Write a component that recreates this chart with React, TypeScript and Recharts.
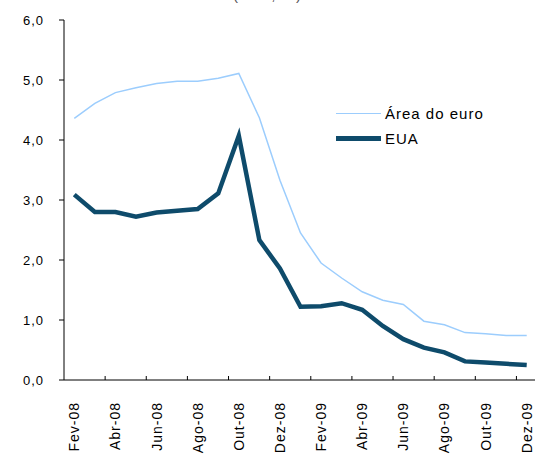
import React from "react";
import { LineChart, Line, XAxis, YAxis, Legend } from "recharts";

const months = [
  "Fev-08", "Mar-08", "Abr-08", "Mai-08", "Jun-08", "Jul-08", "Ago-08", "Set-08",
  "Out-08", "Nov-08", "Dez-08", "Jan-09", "Fev-09", "Mar-09", "Abr-09", "Mai-09",
  "Jun-09", "Jul-09", "Ago-09", "Set-09", "Out-09", "Nov-09", "Dez-09",
];

const euroArea = [
  4.36, 4.61, 4.79, 4.87, 4.94, 4.98, 4.98, 5.03, 5.11, 4.37, 3.33, 2.45,
  1.95, 1.7, 1.47, 1.33, 1.26, 0.98, 0.92, 0.79, 0.77, 0.74, 0.74,
];

const usa = [
  3.09, 2.8, 2.8, 2.72, 2.79, 2.82, 2.85, 3.11, 4.07, 2.33, 1.86, 1.22,
  1.23, 1.28, 1.17, 0.9, 0.68, 0.54, 0.46, 0.31, 0.29, 0.27, 0.25,
];

const yTicks = [0, 1, 2, 3, 4, 5, 6];

const FONT = '"Liberation Sans", Arial, sans-serif';
const LIGHT = "#9ccdfd";
const DARK = "#0e4b6b";

const data = months.map((m, i) => ({
  x: i + 0.5,
  month: m,
  euro: euroArea[i],
  eua: usa[i],
}));

// labels sit in the middle of every 2nd month, tick marks on the boundaries
const labelTicks = months.map((_, i) => i).filter((i) => i % 2 === 0).map((i) => i + 0.5);
const boundaryTicks = labelTicks.slice(1).map((v) => v - 0.5);
const xTicks = [...labelTicks, ...boundaryTicks].sort((a, b) => a - b);

function XTick({ x, y, payload }: { x?: number; y?: number; payload?: { value: number } }) {
  if (x == null || y == null || !payload) return null;
  const v = payload.value;
  if (v % 1 === 0) {
    return <line x1={x} x2={x} y1={y} y2={y - 4} stroke="#000" strokeWidth={1} />;
  }
  return (
    <text
      transform={`translate(${x + 5},${y + 22}) rotate(-90)`}
      textAnchor="end"
      fontSize={14}
      fontFamily={FONT}
      letterSpacing={1}
      fill="#000"
    >
      {months[Math.floor(v)]}
    </text>
  );
}

function LegendBox() {
  const rows = [
    { name: "Área do euro", color: LIGHT, width: 1.5 },
    { name: "EUA", color: DARK, width: 4.5 },
  ];
  return (
    <div style={{ fontFamily: FONT, fontSize: 15, letterSpacing: 1, color: "#000" }}>
      {rows.map((r) => (
        <div key={r.name} style={{ display: "flex", alignItems: "center", height: 25 }}>
          <span style={{ display: "inline-block", width: 45, height: r.width, background: r.color }} />
          <span style={{ marginLeft: 4, lineHeight: "25px" }}>{r.name}</span>
        </div>
      ))}
    </div>
  );
}

export default function App() {
  return (
    <div style={{ position: "absolute", left: 0, top: 0, width: 535, height: 457, overflow: "hidden", background: "#fff" }}>
      <div
        style={{
          position: "absolute",
          top: -13,
          left: 0,
          width: 535,
          textAlign: "center",
          fontFamily: FONT,
          fontSize: 15,
          lineHeight: "15px",
          color: "#555",
          letterSpacing: 1,
        }}
      >
        (taxa, %)
      </div>
      <LineChart width={535} height={457} data={data} margin={{ top: 20, right: -2, left: 0, bottom: 0 }}>
        <XAxis
          dataKey="x"
          type="number"
          domain={[0, 23]}
          ticks={xTicks}
          interval={0}
          height={77}
          tickSize={0}
          tickMargin={0}
          tickLine={false}
          axisLine={{ stroke: "#000", strokeWidth: 1 }}
          tick={<XTick />}
        />
        <YAxis
          type="number"
          domain={[0, 6]}
          ticks={yTicks}
          interval={0}
          width={64}
          tickSize={5}
          tickMargin={15}
          axisLine={{ stroke: "#000", strokeWidth: 1 }}
          tickLine={{ stroke: "#000", strokeWidth: 1 }}
          tick={{ fontSize: 13, fill: "#000", fontFamily: FONT, letterSpacing: 1 }}
          tickFormatter={(v) => Number(v).toFixed(1).replace(".", ",")}
        />
        <Legend
          layout="vertical"
          align="center"
          verticalAlign="middle"
          content={<LegendBox />}
          wrapperStyle={{ position: "absolute", left: 336, top: 101, width: 180 }}
        />
        <Line
          type="linear"
          dataKey="euro"
          name="Área do euro"
          stroke={LIGHT}
          strokeWidth={1.5}
          dot={false}
          isAnimationActive={false}
        />
        <Line
          type="linear"
          dataKey="eua"
          name="EUA"
          stroke={DARK}
          strokeWidth={4.5}
          dot={false}
          isAnimationActive={false}
        />
      </LineChart>
    </div>
  );
}
